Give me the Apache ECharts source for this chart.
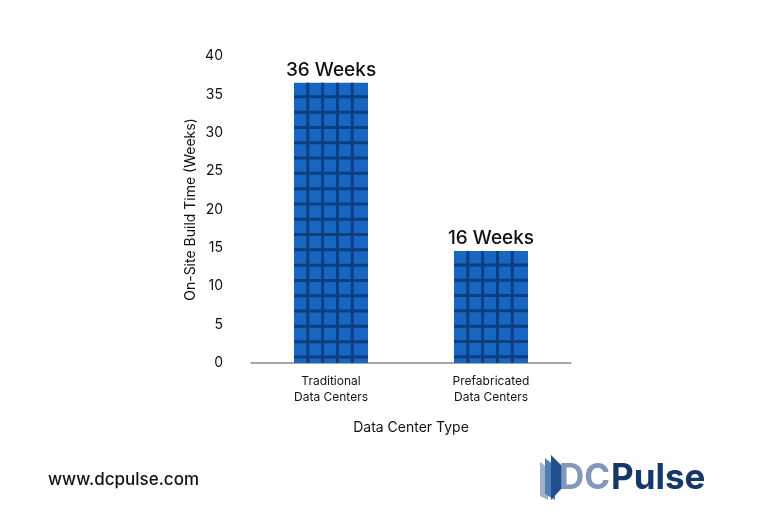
<!DOCTYPE html>
<html><head><meta charset="utf-8">
<script src="https://cdn.jsdelivr.net/npm/echarts@6/dist/echarts.min.js"></script>
<style>html,body{margin:0;background:#fff}#c{width:759px;height:523px}</style>
</head><body><div id="c"></div>
<script>
const categories = ['Traditional\nData Centers', 'Prefabricated\nData Centers'];
const values = [36.5, 14.6];
const valueLabels = ['36 Weeks', '16 Weeks'];
const yTicks = [0, 5, 10, 15, 20, 25, 30, 35, 40];

const chart = echarts.init(document.getElementById('c'));
const FONT = 'Inter, "Noto Sans", sans-serif';
chart.setOption({
  animation: false,
  backgroundColor: '#fff',
  grid: { left: 251, right: 188, top: 56, bottom: 160 },
  xAxis: {
    type: 'category', data: categories,
    axisLine: { lineStyle: { color: '#888', width: 1.5 } },
    axisTick: { show: false },
    axisLabel: { color: '#111', fontSize: 12, fontFamily: FONT, lineHeight: 16, margin: 10 },
    name: 'Data Center Type', nameLocation: 'middle', nameGap: 58,
    nameTextStyle: { color: '#111', fontSize: 14, fontFamily: FONT }
  },
  yAxis: {
    type: 'value', min: 0, max: 40, interval: 5,
    splitLine: { show: false }, axisLine: { show: false },
    axisLabel: { color: '#111', fontSize: 14, fontFamily: FONT, margin: 28,
      formatter: v => yTicks.includes(v) ? String(v) : '' },
    name: 'On-Site Build Time (Weeks)', nameLocation: 'middle', nameGap: 53,
    nameTextStyle: { color: '#111', fontSize: 14, fontFamily: FONT }
  },
  series: [{
    type: 'custom',
    data: values.map((v, i) => [i, v]),
    renderItem: function (params, api) {
      const top = api.coord([api.value(0), api.value(1)]);
      const base = api.coord([api.value(0), 0]);
      const w = 74, x0 = top[0] - w / 2, y0 = top[1], h = base[1] - top[1];
      const ch = [{ type: 'rect', shape: { x: x0, y: y0, width: w, height: h }, style: { fill: '#1766c2' } }];
      const cw = w / 5;
      for (let k = 1; k < 5; k++) ch.push({ type: 'rect', shape: { x: x0 + cw * k - 2.5, y: y0, width: 3, height: h }, style: { fill: '#0b3f7e' } });
      for (let y = y0 + 12.5; y < base[1] - 2; y += 15.3) ch.push({ type: 'rect', shape: { x: x0, y: y, width: w, height: 3 }, style: { fill: '#0b3f7e' } });
      ch.push({ type: 'text', style: { text: valueLabels[params.dataIndex], x: top[0], y: y0 - 3, align: 'center', verticalAlign: 'bottom', fontSize: 19, fontWeight: 500, fontFamily: FONT, fill: '#111' } });
      return { type: 'group', children: ch };
    }
  }],
  graphic: [
    { type: 'text', left: 48, top: 471, style: { text: 'www.dcpulse.com', fontSize: 17, fontWeight: 500, fontFamily: FONT, fill: '#111' } },
    { type: 'polygon', shape: { points: [[540, 462], [548, 468], [548, 500], [540, 496]] }, style: { fill: '#9fb3cf' } },
    { type: 'polygon', shape: { points: [[545, 458], [555, 466], [555, 500], [545, 494]] }, style: { fill: '#4f7fb8' } },
    { type: 'polygon', shape: { points: [[551, 455], [562, 466], [562, 488], [551, 500]] }, style: { fill: '#1f4f8c' } },
    { type: 'text', left: 559, top: 461, style: { text: 'DC', fontSize: 35, fontWeight: 'bold', fontFamily: 'Inter, sans-serif', fill: '#8198b9' } },
    { type: 'text', left: 611, top: 461, style: { text: 'Pulse', fontSize: 35, fontWeight: 'bold', fontFamily: 'Inter, sans-serif', fill: '#15386c' } }
  ]
});
</script></body></html>
